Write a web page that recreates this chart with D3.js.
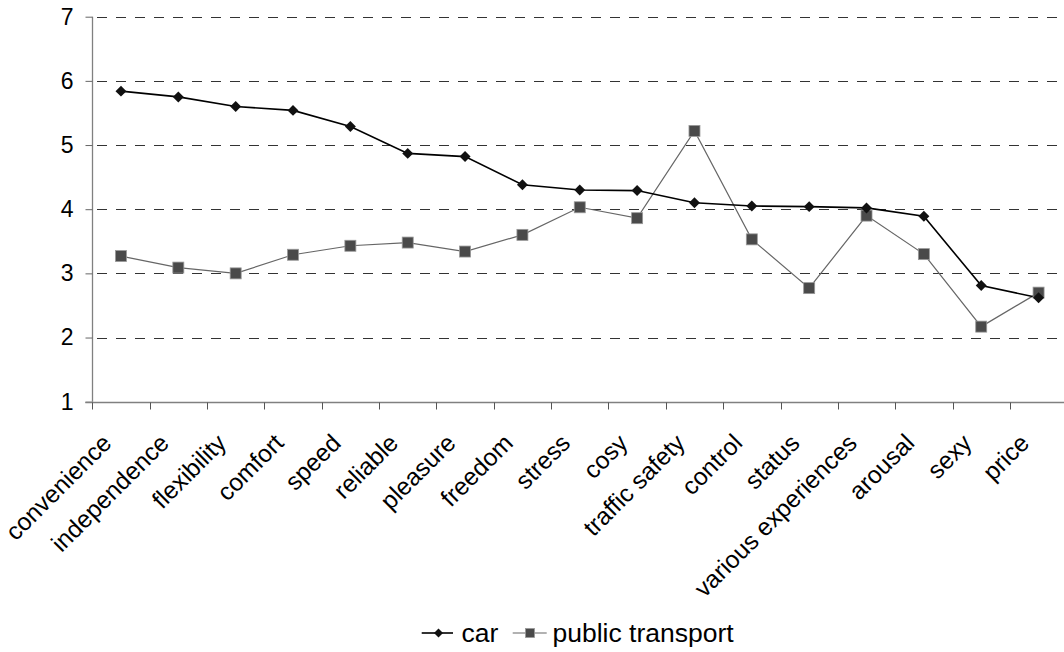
<!DOCTYPE html>
<html>
<head>
<meta charset="utf-8">
<script src="https://cdn.jsdelivr.net/npm/d3@7"></script>
<style>
  html, body { margin: 0; padding: 0; background: #fff; }
  svg { display: block; font-family: "Liberation Sans", Arial, sans-serif; }
</style>
</head>
<body>
<svg id="chart" width="1064" height="652"></svg>
<script>
// Attributes rated for each mode of transport
const categories = ["convenience", "independence", "flexibility", "comfort", "speed", "reliable",
  "pleasure", "freedom", "stress", "cosy", "traffic safety", "control", "status",
  "various experiences", "arousal", "sexy", "price"];

const carValues = [5.84, 5.75, 5.60, 5.54, 5.29, 4.87, 4.82, 4.38, 4.30, 4.29, 4.10, 4.05, 4.04, 4.02, 3.89, 2.81, 2.62];
const publicTransportValues = [3.27, 3.09, 3.00, 3.29, 3.43, 3.48, 3.34, 3.60, 4.03, 3.86, 5.22, 3.53, 2.77, 3.90, 3.30, 2.17, 2.70];

const yTicks = [1, 2, 3, 4, 5, 6, 7];
const seriesNames = ["car", "public transport"];

const svg = d3.select("#chart");
const W = 1064;

const plotLeft = 92.3, plotTop = 16.7, plotBottom = 401.7;
const bandW = 57.35;

const x = d3.scaleBand()
  .domain(categories)
  .range([plotLeft, plotLeft + bandW * categories.length])
  .paddingInner(0).paddingOuter(0);

const y = d3.scaleLinear().domain([1, 7]).range([plotBottom, plotTop]);

const cx = d => x(d) + x.bandwidth() / 2;

// Horizontal dashed gridlines
svg.append("g")
  .selectAll("line")
  .data(yTicks.filter(t => t > 1))
  .join("line")
  .attr("x1", Math.round(plotLeft) + 1).attr("x2", W)
  .attr("y1", d => Math.round(y(d)) + 0.5).attr("y2", d => Math.round(y(d)) + 0.5)
  .attr("stroke", "#333")
  .attr("stroke-width", 1)
  .attr("stroke-dasharray", "10,9")
  .attr("stroke-dashoffset", -4);

// Y axis
const yAxis = svg.append("g")
  .attr("transform", `translate(${Math.round(plotLeft) + 0.5},0)`)
  .call(d3.axisLeft(y).tickValues(yTicks).tickSize(7).tickPadding(12).tickFormat(d3.format("d")));
yAxis.select(".domain").attr("stroke", "#808080").attr("stroke-width", 1.3).attr("d", `M0,${plotTop}V${plotBottom}`);
yAxis.selectAll(".tick line").attr("stroke", "#666");
yAxis.selectAll(".tick text").attr("font-size", 23).attr("fill", "#000")
  .attr("font-family", "'Liberation Sans', Arial, sans-serif");

// X axis: tick marks at band edges
const xAxisG = svg.append("g").attr("transform", `translate(0,${Math.round(plotBottom) + 0.5})`);
xAxisG.append("line")
  .attr("x1", plotLeft - 7).attr("x2", W)
  .attr("stroke", "#808080")
  .attr("stroke-width", 1.3);
xAxisG.selectAll("line.edge")
  .data(categories)
  .join("line")
  .attr("class", "edge")
  .attr("x1", d => Math.round(x(d)) + 0.5).attr("x2", d => Math.round(x(d)) + 0.5)
  .attr("y1", 0).attr("y2", 7)
  .attr("stroke", "#555");

// Rotated category labels
xAxisG.selectAll("text")
  .data(categories)
  .join("text")
  .attr("text-anchor", "end")
  .attr("font-size", 24.5)
  .attr("fill", "#000")
  .attr("transform", d => `translate(${cx(d) - 8},${42}) rotate(-45)`)
  .text(d => d);

// Lines and markers
const line = d3.line().x((d, i) => cx(categories[i])).y(d => y(d));

svg.append("path")
  .datum(publicTransportValues)
  .attr("fill", "none")
  .attr("stroke", "#666")
  .attr("stroke-width", 1.2)
  .attr("d", line);

svg.append("path")
  .datum(carValues)
  .attr("fill", "none")
  .attr("stroke", "#000")
  .attr("stroke-width", 1.6)
  .attr("d", line);

const diamond = d3.symbol().type(d3.symbolSquare).size(60);

svg.append("g")
  .selectAll("rect")
  .data(publicTransportValues)
  .join("rect")
  .attr("x", (d, i) => cx(categories[i]) - 5.5)
  .attr("y", d => y(d) - 5.5)
  .attr("width", 11).attr("height", 11)
  .attr("fill", "#4a4a4a")
  .attr("stroke", "#999")
  .attr("stroke-width", 0.8);

svg.append("g")
  .selectAll("path")
  .data(carValues)
  .join("path")
  .attr("d", diamond)
  .attr("transform", (d, i) => `translate(${cx(categories[i])},${y(d)}) rotate(45)`)
  .attr("fill", "#111");

// Legend
const legend = svg.append("g").attr("transform", "translate(0,633)");
const legendItems = [
  { name: seriesNames[0], x0: 421.7, x1: 453, mx: 438.5, tx: 461.5 },
  { name: seriesNames[1], x0: 512.7, x1: 546.7, mx: 530, tx: 552.5 }
];
legendItems.forEach((it, i) => {
  legend.append("line")
    .attr("x1", it.x0).attr("x2", it.x1).attr("y1", 0).attr("y2", 0)
    .attr("stroke", i === 0 ? "#000" : "#666")
    .attr("stroke-width", i === 0 ? 1.6 : 1.2);
  if (i === 0) {
    legend.append("path")
      .attr("d", d3.symbol().type(d3.symbolSquare).size(40))
      .attr("transform", `translate(${it.mx},0) rotate(45)`)
      .attr("fill", "#111");
  } else {
    legend.append("rect")
      .attr("x", it.mx - 4.5).attr("y", -4.5).attr("width", 9).attr("height", 9)
      .attr("fill", "#4a4a4a").attr("stroke", "#999").attr("stroke-width", 0.8);
  }
  legend.append("text")
    .attr("x", it.tx).attr("y", 8.5)
    .attr("font-size", 26.5).attr("fill", "#000")
    .text(it.name);
});
</script>
</body>
</html>
